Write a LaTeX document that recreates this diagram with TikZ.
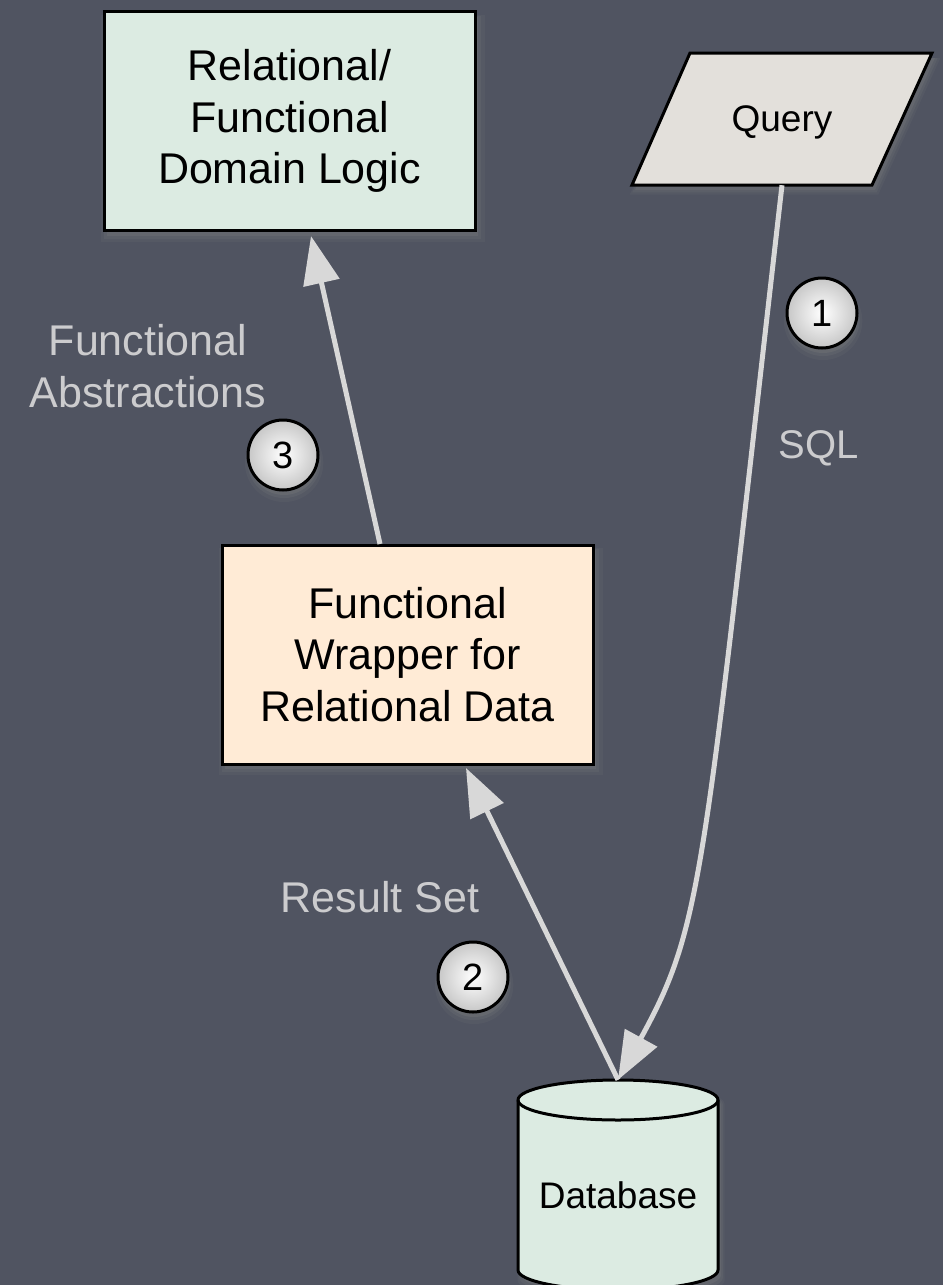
\documentclass[tikz,border=0pt]{standalone}
\usepackage{fontspec}
\setmainfont{Liberation Sans}
\usetikzlibrary{arrows.meta,shadows,calc}
\definecolor{bgcol}{RGB}{80,84,97}
\definecolor{mint}{RGB}{220,235,226}
\definecolor{peach}{RGB}{255,235,214}
\definecolor{qgray}{RGB}{227,224,219}
\definecolor{conncol}{RGB}{216,216,216}
\definecolor{lblcol}{RGB}{204,204,206}
\tikzset{
  softshadow/.style={
    drop shadow={shadow xshift=3pt, shadow yshift=-7pt, opacity=0.12, shadow scale=1.035},
    drop shadow={shadow xshift=3pt, shadow yshift=-6pt, opacity=0.16, shadow scale=1.018},
    drop shadow={shadow xshift=3pt, shadow yshift=-5pt, opacity=0.22}},
  circshadow/.style={
    drop shadow={shadow xshift=1pt, shadow yshift=-7pt, opacity=0.12, shadow scale=1.12},
    drop shadow={shadow xshift=1pt, shadow yshift=-6pt, opacity=0.18, shadow scale=1.05},
    drop shadow={shadow xshift=1pt, shadow yshift=-5pt, opacity=0.25}},
  boxnode/.style={draw=black, line width=3pt, minimum width=371pt, minimum height=219pt,
    align=center, font=\fontsize{43}{51.6}\selectfont, softshadow},
  shapeline/.style={draw=black, line width=3pt, line join=miter, softshadow},
  plaintext/.style={font=\fontsize{37}{44}\selectfont, inner sep=0pt},
  connector/.style={draw=conncol, line width=5pt, -{Triangle[length=48pt,width=36pt]}},
  lbl/.style={text=lblcol, align=center, inner sep=0pt, font=\fontsize{43}{51.6}\selectfont},
  numcircle/.style={circle, draw=black, line width=3pt, minimum size=70pt, inner sep=0pt,
    inner color=white, outer color=black!22, font=\fontsize{38}{40}\selectfont, circshadow},
}
\begin{document}
\begin{tikzpicture}[x=1pt,y=-1pt]
\useasboundingbox (0,0) rectangle (943,1285);
\clip (0,0) rectangle (943,1285);
\fill[bgcol] (0,0) rectangle (943,1285);

% boxes
\node[boxnode, fill=mint] (dom) at (289.5,121) {Relational/\\Functional\\Domain Logic};
\node[boxnode, fill=peach] (wrap) at (407.5,654.5) {Functional\\Wrapper for\\Relational Data};

% query parallelogram
\path[shapeline, fill=qgray] (632,185) -- (690,53) -- (932,53) -- (872,185) -- cycle;
\node[plaintext, minimum width=240pt, minimum height=126pt] (query) at (782,122) {Query};

% database cylinder
\path[shapeline, fill=mint] (518,1100) -- (518,1270)
  arc[start angle=180, end angle=360, x radius=100pt, y radius=20pt] -- (718,1100)
  arc[start angle=0, end angle=180, x radius=100pt, y radius=20pt] -- cycle;
\draw[black, line width=3pt] (518,1100) arc[start angle=180, end angle=360, x radius=100pt, y radius=20pt];
\node[plaintext, minimum width=200pt, minimum height=230pt] (db) at (618,1195) {Database};

% connector end points
\coordinate (w3) at (380,544);
\coordinate (d3) at (311,236);
\coordinate (w2) at (466,768);
\coordinate (c1) at (702,885);
\coordinate (c2) at (703,925);

% connectors
\draw[connector] (query.south) .. controls (c1) and (c2) .. (db.north);
\draw[connector] (db.north) -- (w2);
\draw[connector] (w3) -- (d3);

% labels
\node[lbl] (labfa) at (148,366) {Functional\\Abstractions};
\node[lbl, anchor=base, font=\fontsize{40}{48}\selectfont] (labsql) at (818.5,458) {SQL};
\node[lbl, anchor=base] (labrs) at (380,912) {Result Set};

% step numbers
\node[numcircle] (n1) at (822,313) {1};
\node[numcircle] (n3) at (283,455) {3};
\node[numcircle] (n2) at (473,977) {2};
\end{tikzpicture}
\end{document}
